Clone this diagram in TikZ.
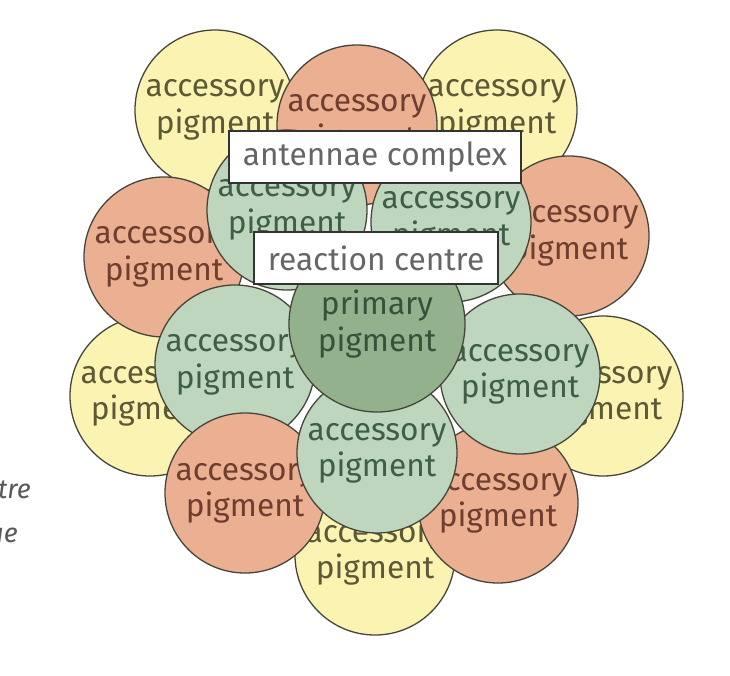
\documentclass[tikz,border=0pt]{standalone}
\usepackage{fontspec}
\setmainfont{Fira Sans}
\usepackage{tikz}

\definecolor{ylfill}{HTML}{FAF3B2}
\definecolor{orfill}{HTML}{EBAF91}
\definecolor{grfill}{HTML}{BDD6BD}
\definecolor{dkfill}{HTML}{94B18D}
\definecolor{edge}{HTML}{45453A}
\definecolor{yltext}{HTML}{5C5A36}
\definecolor{ortext}{HTML}{6E3E2E}
\definecolor{grtext}{HTML}{3F5E46}
\definecolor{dktext}{HTML}{37523A}
\definecolor{labtext}{HTML}{666666}

\newcommand{\pigfont}{\fontsize{27}{31}\selectfont}

\begin{document}
\begin{tikzpicture}[x=0.03cm, y=-0.03cm,
    pig/.style={circle, draw=edge, line width=1.1pt, minimum size=4.8cm,
        inner sep=0pt, align=center, font=\pigfont},
    ypig/.style={pig, fill=ylfill, text=yltext},
    opig/.style={pig, fill=orfill, text=ortext},
    gpig/.style={pig, fill=grfill, text=grtext},
    dpig/.style={pig, fill=dkfill, text=dktext, minimum size=5.28cm},
    tag/.style={draw=black!80, line width=1.4pt, fill=white, text=labtext,
        font=\pigfont, minimum height=1.55cm, inner xsep=12pt}
]

\useasboundingbox (0,0) rectangle (730,676);

% Yellow circles
\node[ypig] (ytl) at (215,110) {accessory\\pigment};
\node[ypig] (ytr) at (497,110) {accessory\\pigment};
\node[ypig] (yl) at (150,396) {accessory\\pigment};
\node[ypig] (yr) at (603,396) {accessory\\pigment};
\node[ypig] (yb) at (375,555) {accessory\\pigment};

% Orange circles
\node[opig] (ot) at (357,125) {accessory\\pigment};
\node[opig] (ol) at (164,257) {accessory\\pigment};
\node[opig] (or) at (569,236) {accessory\\pigment};
\node[opig] (obr) at (498,503) {accessory\\pigment};

% Green circles
\node[gpig] (gtl) at (287,210) {accessory\\pigment};
\node[gpig] (gtr) at (451,222) {accessory\\pigment};
\node[gpig] (gl) at (235,365) {accessory\\pigment};
\node[gpig] (gr) at (520,374) {accessory\\pigment};
\node[opig] (obl) at (245,493) {accessory\\pigment};
\node[gpig] (gb) at (377,453) {accessory\\pigment};

% Primary pigment
\node[dpig] (prim) at (377,324) {primary\\pigment};

% Labels
\node[tag] (ant) at (375,157) {antennae complex};
\node[tag] (rc) at (376,258) {reaction centre};

% Cut text on the left
\node[anchor=base east, text=black!65, font=\fontsize{23}{25}\selectfont\itshape] (tre) at (35,498) {tre};
\node[anchor=base east, text=black!65, font=\fontsize{23}{25}\selectfont\itshape] (ue) at (22,542) {ue};

\end{tikzpicture}
\end{document}
